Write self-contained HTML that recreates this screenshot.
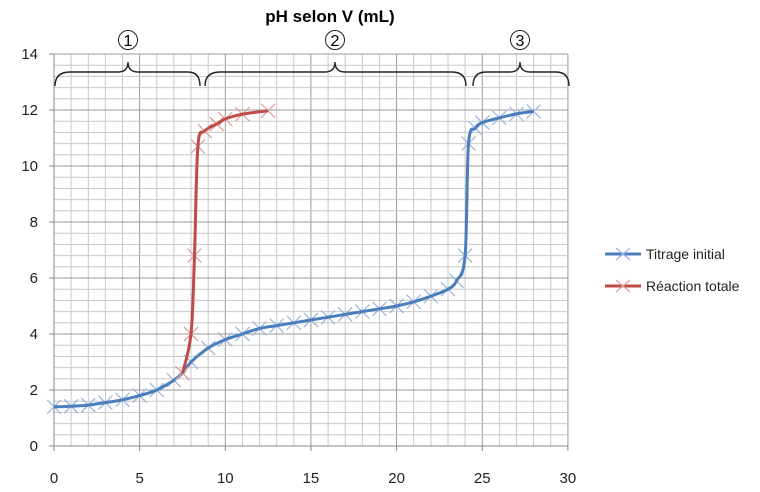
<!DOCTYPE html>
<html><head><meta charset="utf-8"><style>
body{margin:0;background:#fff;width:760px;height:492px;overflow:hidden}
svg{display:block}
text{font-family:"Liberation Sans",sans-serif}
</style></head><body>
<svg id="s" width="760" height="492" xmlns="http://www.w3.org/2000/svg">
<text x="330" y="22" font-size="17" font-weight="bold" text-anchor="middle">pH selon V (mL)</text>
<g id="grid"></g>
<g fill="none" stroke="#222" stroke-width="1.4">
<path d="M55,86 Q55,72 70,72 L118,72 Q128,72 128,62 Q128,72 138,72 L188,72 Q200,72 200,86"/>
<path d="M205,86 Q205,72 220,72 L325,72 Q335,72 335,62 Q335,72 345,72 L452,72 Q466,72 466,86"/>
<path d="M473,86 Q473,72 486,72 L510,72 Q520,72 520,62 Q520,72 530,72 L556,72 Q569,72 569,86"/>
</g>
<g font-family="Liberation Serif,serif" font-size="16" text-anchor="middle">
<circle cx="128" cy="40" r="9.5" fill="none" stroke="#222"/><text x="128" y="46">1</text>
<circle cx="335" cy="40" r="9.5" fill="none" stroke="#222"/><text x="335" y="46">2</text>
<circle cx="520" cy="40" r="9.5" fill="none" stroke="#222"/><text x="520" y="46">3</text>
</g>
<g id="series"></g>
<g id="labels" font-size="15" fill="#222"></g>
<line x1="605" y1="254" x2="641" y2="254" stroke="#4a7ebb" stroke-width="3"/>
<path d="M616,248 L630,260 M616,260 L630,248" stroke="#9db8df" stroke-width="1.3"/>
<text x="646" y="259" font-size="14" fill="#222">Titrage initial</text>
<line x1="605" y1="286" x2="641" y2="286" stroke="#be4b48" stroke-width="3"/>
<path d="M616,280 L630,292 M616,292 L630,280" stroke="#e0a09e" stroke-width="1.3"/>
<text x="646" y="291" font-size="14" fill="#222">Réaction totale</text>
</svg>
<script>
function X(v){return 54+v*17.13}function Y(v){return 446-v*28}
var g=document.getElementById('grid'),h='';
for(var i=0;i<=30;i++){var x=X(i).toFixed(1);h+='<line x1="'+x+'" y1="54" x2="'+x+'" y2="446" stroke="'+(i%5==0?'#999':'#c8c8c8')+'" stroke-width="1"/>';}
for(var j=0;j<=35;j++){var y=Y(j*0.4).toFixed(1);h+='<line x1="54" y1="'+y+'" x2="568" y2="'+y+'" stroke="'+(j%5==0?'#999':'#c8c8c8')+'" stroke-width="1"/>';}
h+='<line x1="54" y1="54" x2="54" y2="446" stroke="#888"/><line x1="54" y1="446" x2="568" y2="446" stroke="#888"/>';
for(var i=0;i<=6;i++){h+='<line x1="'+X(i*5)+'" y1="446" x2="'+X(i*5)+'" y2="451" stroke="#888"/>';}
for(var j=0;j<=7;j++){h+='<line x1="49" y1="'+Y(j*2)+'" x2="54" y2="'+Y(j*2)+'" stroke="#888"/>';}
g.innerHTML=h;
var l='';
for(var i=0;i<=6;i++)l+='<text x="'+X(i*5)+'" y="483" text-anchor="middle">'+(i*5)+'</text>';
for(var j=0;j<=7;j++)l+='<text x="38" y="'+(Y(j*2)+5)+'" text-anchor="end">'+(j*2)+'</text>';
document.getElementById('labels').innerHTML=l;
var blue=[[0,1.4],[1,1.42],[2,1.46],[3,1.55],[4,1.65],[5,1.8],[6,2.0],[7,2.35],[7.5,2.6],[8,3.0],[9,3.5],[10,3.8],[11,4.0],[12,4.2],[13,4.3],[14,4.4],[15,4.5],[16,4.6],[17,4.7],[18,4.8],[19,4.9],[20,5.0],[21,5.15],[22,5.35],[23,5.6],[23.5,5.9],[24,6.8],[24.2,10.8],[24.6,11.35],[25,11.55],[26,11.72],[27,11.86],[28,11.95]];
var red=[[7.5,2.6],[8,4.0],[8.2,6.8],[8.4,10.7],[8.8,11.25],[9.5,11.5],[10,11.68],[11,11.85],[12.5,11.97]];
function path(d){var p=d.map(function(a){return[X(a[0]),Y(a[1])]});var s='M'+p[0][0]+','+p[0][1];
for(var i=0;i<p.length-1;i++){var p0=p[i-1]||p[i],p1=p[i],p2=p[i+1],p3=p[i+2]||p2;
var c1=[p1[0]+(p2[0]-p0[0])/6,p1[1]+(p2[1]-p0[1])/6],c2=[p2[0]-(p3[0]-p1[0])/6,p2[1]-(p3[1]-p1[1])/6];
s+=' C'+c1[0].toFixed(1)+','+c1[1].toFixed(1)+' '+c2[0].toFixed(1)+','+c2[1].toFixed(1)+' '+p2[0].toFixed(1)+','+p2[1].toFixed(1);}return s;}
function marks(d,c){var s='';d.forEach(function(a){var x=X(a[0]),y=Y(a[1]);s+='M'+(x-7)+','+(y-7)+' L'+(x+7)+','+(y+7)+' M'+(x-7)+','+(y+7)+' L'+(x+7)+','+(y-7)+' ';});return '<path d="'+s+'" stroke="'+c+'" stroke-width="1.3" fill="none"/>';}
document.getElementById('series').innerHTML=marks(blue,'#9db8df')+'<path d="'+path(blue)+'" stroke="#4a7ebb" stroke-width="3" fill="none"/>'+marks(red,'#e0a09e')+'<path d="'+path(red)+'" stroke="#be4b48" stroke-width="3" fill="none"/>';
</script>
</body></html>
